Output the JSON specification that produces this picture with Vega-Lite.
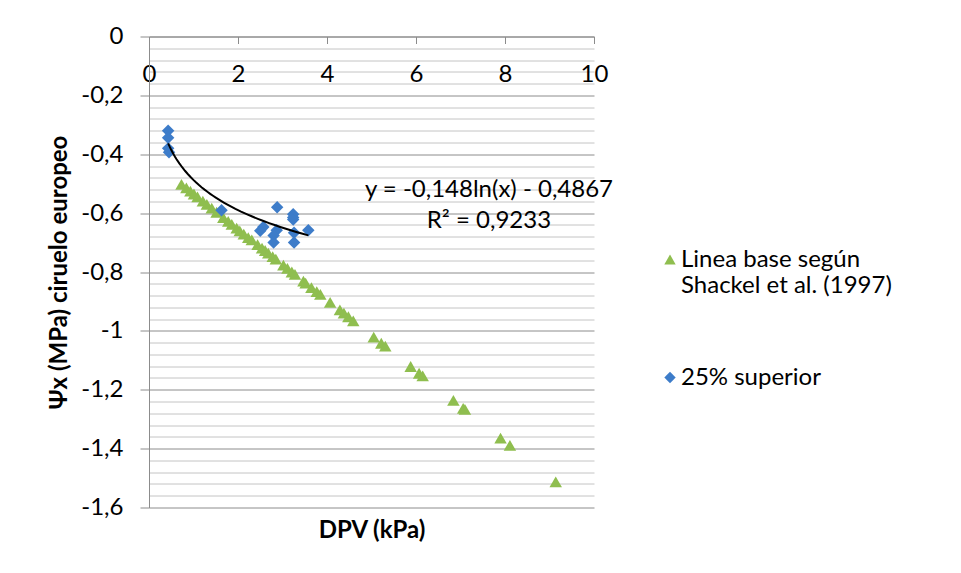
{
  "$schema": "https://vega.github.io/schema/vega-lite/v6.json",
  "width": 445,
  "height": 471,
  "autosize": "none",
  "padding": {"left": 149, "top": 36.5, "right": 367, "bottom": 65.5},
  "background": "white",
  "config": {
    "view": {"stroke": null},
    "font": "Lato",
    "text": {"font": "Lato"}
  },
  "datasets": {
    "pts": [
      {"serie": "Linea base según Shackel et al. (1997)", "DPV": 0.73, "psi": -0.502},
      {"serie": "Linea base según Shackel et al. (1997)", "DPV": 0.84, "psi": -0.514},
      {"serie": "Linea base según Shackel et al. (1997)", "DPV": 0.93, "psi": -0.525},
      {"serie": "Linea base según Shackel et al. (1997)", "DPV": 1.01, "psi": -0.535},
      {"serie": "Linea base según Shackel et al. (1997)", "DPV": 1.09, "psi": -0.545},
      {"serie": "Linea base según Shackel et al. (1997)", "DPV": 1.21, "psi": -0.559},
      {"serie": "Linea base según Shackel et al. (1997)", "DPV": 1.30, "psi": -0.570},
      {"serie": "Linea base según Shackel et al. (1997)", "DPV": 1.41, "psi": -0.583},
      {"serie": "Linea base según Shackel et al. (1997)", "DPV": 1.52, "psi": -0.597},
      {"serie": "Linea base según Shackel et al. (1997)", "DPV": 1.67, "psi": -0.615},
      {"serie": "Linea base según Shackel et al. (1997)", "DPV": 1.78, "psi": -0.628},
      {"serie": "Linea base según Shackel et al. (1997)", "DPV": 1.86, "psi": -0.638},
      {"serie": "Linea base según Shackel et al. (1997)", "DPV": 1.97, "psi": -0.651},
      {"serie": "Linea base según Shackel et al. (1997)", "DPV": 2.04, "psi": -0.660},
      {"serie": "Linea base según Shackel et al. (1997)", "DPV": 2.13, "psi": -0.671},
      {"serie": "Linea base según Shackel et al. (1997)", "DPV": 2.23, "psi": -0.683},
      {"serie": "Linea base según Shackel et al. (1997)", "DPV": 2.31, "psi": -0.691},
      {"serie": "Linea base según Shackel et al. (1997)", "DPV": 2.44, "psi": -0.707},
      {"serie": "Linea base según Shackel et al. (1997)", "DPV": 2.54, "psi": -0.719},
      {"serie": "Linea base según Shackel et al. (1997)", "DPV": 2.61, "psi": -0.727},
      {"serie": "Linea base según Shackel et al. (1997)", "DPV": 2.68, "psi": -0.736},
      {"serie": "Linea base según Shackel et al. (1997)", "DPV": 2.78, "psi": -0.748},
      {"serie": "Linea base según Shackel et al. (1997)", "DPV": 2.85, "psi": -0.756},
      {"serie": "Linea base según Shackel et al. (1997)", "DPV": 3.02, "psi": -0.777},
      {"serie": "Linea base según Shackel et al. (1997)", "DPV": 3.11, "psi": -0.788},
      {"serie": "Linea base según Shackel et al. (1997)", "DPV": 3.21, "psi": -0.800},
      {"serie": "Linea base según Shackel et al. (1997)", "DPV": 3.28, "psi": -0.808},
      {"serie": "Linea base según Shackel et al. (1997)", "DPV": 3.47, "psi": -0.831},
      {"serie": "Linea base según Shackel et al. (1997)", "DPV": 3.52, "psi": -0.838},
      {"serie": "Linea base según Shackel et al. (1997)", "DPV": 3.65, "psi": -0.853},
      {"serie": "Linea base según Shackel et al. (1997)", "DPV": 3.77, "psi": -0.867},
      {"serie": "Linea base según Shackel et al. (1997)", "DPV": 3.85, "psi": -0.876},
      {"serie": "Linea base según Shackel et al. (1997)", "DPV": 4.07, "psi": -0.903},
      {"serie": "Linea base según Shackel et al. (1997)", "DPV": 4.29, "psi": -0.929},
      {"serie": "Linea base según Shackel et al. (1997)", "DPV": 4.38, "psi": -0.940},
      {"serie": "Linea base según Shackel et al. (1997)", "DPV": 4.48, "psi": -0.952},
      {"serie": "Linea base según Shackel et al. (1997)", "DPV": 4.59, "psi": -0.966},
      {"serie": "Linea base según Shackel et al. (1997)", "DPV": 5.05, "psi": -1.021},
      {"serie": "Linea base según Shackel et al. (1997)", "DPV": 5.22, "psi": -1.042},
      {"serie": "Linea base según Shackel et al. (1997)", "DPV": 5.31, "psi": -1.052},
      {"serie": "Linea base según Shackel et al. (1997)", "DPV": 5.88, "psi": -1.121},
      {"serie": "Linea base según Shackel et al. (1997)", "DPV": 6.07, "psi": -1.144},
      {"serie": "Linea base según Shackel et al. (1997)", "DPV": 6.15, "psi": -1.153},
      {"serie": "Linea base según Shackel et al. (1997)", "DPV": 6.84, "psi": -1.236},
      {"serie": "Linea base según Shackel et al. (1997)", "DPV": 7.06, "psi": -1.263},
      {"serie": "Linea base según Shackel et al. (1997)", "DPV": 7.10, "psi": -1.267},
      {"serie": "Linea base según Shackel et al. (1997)", "DPV": 7.90, "psi": -1.364},
      {"serie": "Linea base según Shackel et al. (1997)", "DPV": 8.11, "psi": -1.389},
      {"serie": "Linea base según Shackel et al. (1997)", "DPV": 9.14, "psi": -1.513},
      {"serie": "25% superior", "DPV": 0.43, "psi": -0.32},
      {"serie": "25% superior", "DPV": 0.43, "psi": -0.344},
      {"serie": "25% superior", "DPV": 0.43, "psi": -0.38},
      {"serie": "25% superior", "DPV": 0.45, "psi": -0.393},
      {"serie": "25% superior", "DPV": 1.63, "psi": -0.59},
      {"serie": "25% superior", "DPV": 2.88, "psi": -0.58},
      {"serie": "25% superior", "DPV": 3.24, "psi": -0.604},
      {"serie": "25% superior", "DPV": 3.24, "psi": -0.615},
      {"serie": "25% superior", "DPV": 3.24, "psi": -0.622},
      {"serie": "25% superior", "DPV": 2.57, "psi": -0.647},
      {"serie": "25% superior", "DPV": 2.50, "psi": -0.66},
      {"serie": "25% superior", "DPV": 2.87, "psi": -0.658},
      {"serie": "25% superior", "DPV": 2.80, "psi": -0.676},
      {"serie": "25% superior", "DPV": 2.80, "psi": -0.70},
      {"serie": "25% superior", "DPV": 3.26, "psi": -0.667},
      {"serie": "25% superior", "DPV": 3.26, "psi": -0.70},
      {"serie": "25% superior", "DPV": 3.58, "psi": -0.658}
    ]
  },
  "encoding": {
    "y": {
      "type": "quantitative",
      "scale": {"domain": [-1.6, 0], "nice": false, "zero": false},
      "title": "Ψx (MPa) ciruelo europeo",
      "axis": {
        "values": [0, -0.04, -0.08, -0.12, -0.16, -0.2, -0.24, -0.28, -0.32, -0.36, -0.4, -0.44, -0.48, -0.52, -0.56, -0.6, -0.64, -0.68, -0.72, -0.76, -0.8, -0.84, -0.88, -0.92, -0.96, -1, -1.04, -1.08, -1.12, -1.16, -1.2, -1.24, -1.28, -1.32, -1.36, -1.4, -1.44, -1.48, -1.52, -1.56, -1.6],
        "grid": true,
        "gridColor": {"condition": {"test": "abs(datum.value*5 - round(datum.value*5)) < 0.001", "value": "#8C8C8C"}, "value": "#C4C4C4"},
        "gridWidth": 1,
        "tickOpacity": {"condition": {"test": "abs(datum.value*5 - round(datum.value*5)) < 0.001", "value": 1}, "value": 0},
        "labelExpr": "abs(datum.value*5 - round(datum.value*5)) < 0.001 ? ((datum.value < -0.001 ? '-' : '') + replace(format(abs(datum.value), '.1~f'), '.', ',')) : ''",
        "tickSize": 9, "tickColor": "#8C8C8C", "domainColor": "#8C8C8C",
        "labelPadding": 17, "labelFont": "Lato", "labelFontSize": 24, "labelColor": "black",
        "labelOverlap": false, "labelBound": false,
        "titleFont": "Lato", "titleFontSize": 24, "titleFontWeight": "bold", "titleColor": "black", "titlePadding": 9
      }
    }
  },
  "layer": [
    {
      "data": {"name": "pts"},
      "mark": {"type": "point", "filled": true, "opacity": 1, "size": 155},
      "encoding": {
        "x": {
          "field": "DPV", "type": "quantitative",
          "scale": {"domain": [0, 10], "nice": false, "zero": false},
          "axis": {
            "orient": "bottom", "offset": -471, "values": [0, 2, 4, 6, 8, 10], "format": "d",
            "grid": false, "domainColor": "#8C8C8C", "tickColor": "#8C8C8C", "tickSize": 7,
            "labelFont": "Lato", "labelFontSize": 24, "labelColor": "black", "labelPadding": 19,
            "labelFlush": false, "labelOverlap": false, "title": null
          }
        },
        "y": {"field": "psi"},
        "color": {
          "field": "serie", "type": "nominal",
          "scale": {"domain": ["Linea base según Shackel et al. (1997)", "25% superior"], "range": ["#8FBE4F", "#3D7CC9"]},
          "legend": {
            "orient": "none", "legendX": 509, "legendY": 211, "title": null, "padding": 0,
            "labelExpr": "datum.label == '25% superior' ? datum.label : ['Linea base según', 'Shackel et al. (1997)']",
            "labelFont": "Lato", "labelFontSize": 24, "labelColor": "black", "labelLimit": 400,
            "labelOffset": -1, "symbolSize": 130, "rowPadding": 68, "labelBaseline": "middle"
          }
        },
        "shape": {
          "field": "serie", "type": "nominal",
          "scale": {"domain": ["Linea base según Shackel et al. (1997)", "25% superior"], "range": ["triangle-up", "diamond"]},
          "legend": {
            "orient": "none", "legendX": 509, "legendY": 211, "title": null, "padding": 0,
            "labelExpr": "datum.label == '25% superior' ? datum.label : ['Linea base según', 'Shackel et al. (1997)']",
            "labelFont": "Lato", "labelFontSize": 24, "labelColor": "black", "labelLimit": 400,
            "labelOffset": -1, "symbolSize": 130, "rowPadding": 68, "labelBaseline": "middle"
          }
        }
      }
    },
    {
      "data": {"name": "pts"},
      "transform": [
        {"filter": "datum.serie == '25% superior'"},
        {"regression": "psi", "on": "DPV", "method": "log"}
      ],
      "mark": {"type": "line", "color": "black", "strokeWidth": 2},
      "encoding": {
        "x": {
          "field": "DPV", "type": "quantitative",
          "axis": {
            "orient": "bottom", "labels": false, "ticks": false, "domain": false, "grid": false,
            "title": "DPV (kPa)", "titleFont": "Lato", "titleFontSize": 24, "titleFontWeight": "bold",
            "titleColor": "black", "titlePadding": 11
          }
        },
        "y": {"field": "psi"}
      }
    },
    {
      "data": {"values": [{}]},
      "mark": {"type": "text", "text": "y = -0,148ln(x) - 0,4867", "font": "Lato", "fontSize": 24, "align": "center", "baseline": "middle", "color": "black"},
      "encoding": {
        "x": {"datum": 7.64, "type": "quantitative", "axis": null},
        "y": {"datum": -0.521}
      }
    },
    {
      "data": {"values": [{}]},
      "mark": {"type": "text", "text": "R² = 0,9233", "font": "Lato", "fontSize": 24, "align": "center", "baseline": "middle", "color": "black"},
      "encoding": {
        "x": {"datum": 7.64, "type": "quantitative", "axis": null},
        "y": {"datum": -0.627}
      }
    }
  ],
  "resolve": {"axis": {"x": "independent"}}
}
